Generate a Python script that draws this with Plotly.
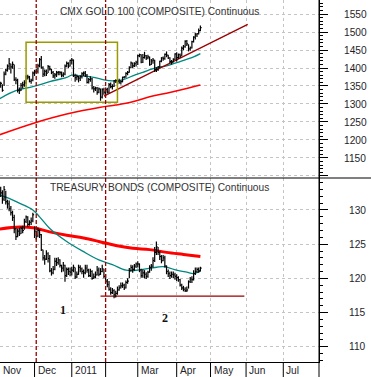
import numpy as np
import pandas as pd
import plotly.graph_objects as go

# ---------------- trading calendar (x categories) ----------------
holidays = ["2010-11-25", "2010-12-24", "2011-01-17", "2011-02-21",
            "2011-04-22", "2011-05-30", "2011-07-04"]
cal = pd.bdate_range("2010-11-01", "2011-08-05", freq="C", holidays=holidays)
pos = {d.strftime("%Y-%m-%d"): i for i, d in enumerate(cal)}

month_starts = ["2010-11-01", "2010-12-01", "2011-01-03", "2011-02-01", "2011-03-01",
                "2011-04-01", "2011-05-02", "2011-06-01", "2011-07-01"]
month_labels = ["Nov", "Dec", "2011", "", "Mar", "Apr", "May", "Jun", "Jul"]
grid_months = ["2011-01-03", "2011-03-01", "2011-04-01", "2011-05-02", "2011-06-01", "2011-07-01"]

# ---------------- CMX GOLD daily bars (Nov 1 2010 .. Apr 21 2011) ----------------
gold_close = [1352, 1357, 1338, 1383, 1394, 1405, 1412, 1403, 1410, 1368, 1366, 1338, 1337, 1352, 1353, 1359, 1376, 1375, 1363, 1366, 1386,
              1389, 1391, 1406, 1423, 1401, 1383, 1391, 1385, 1404, 1397, 1388, 1378, 1381, 1387, 1388, 1387, 1380, 1383, 1405, 1413, 1405, 1421,
              1422, 1379, 1373, 1376, 1372, 1376, 1384, 1386, 1380, 1360, 1368, 1370, 1345, 1342, 1344, 1332, 1342, 1319, 1340, 1333,
              1340, 1333, 1354, 1348, 1349, 1364, 1365, 1363, 1361, 1362, 1374, 1375, 1385, 1388, 1401, 1414, 1406, 1412, 1416,
              1434, 1437, 1416, 1429, 1434, 1428, 1431, 1409, 1420, 1422, 1396, 1396, 1403, 1419, 1428, 1426, 1438, 1436, 1428, 1418, 1416, 1424, 1439,
              1429, 1437, 1433, 1455, 1459, 1474, 1467, 1453, 1456, 1473, 1486, 1492, 1495, 1504, 1512]
gold_high = [1360, 1362, 1355, 1390, 1398, 1410, 1428, 1412, 1418, 1410, 1374, 1370, 1346, 1358, 1362, 1366, 1380, 1381, 1378, 1370, 1390,
             1395, 1398, 1412, 1428, 1433, 1405, 1396, 1396, 1408, 1406, 1398, 1392, 1386, 1392, 1392, 1392, 1390, 1388, 1410, 1418, 1416, 1423,
             1428, 1424, 1384, 1382, 1378, 1380, 1388, 1390, 1392, 1383, 1372, 1377, 1372, 1350, 1348, 1347, 1346, 1343, 1344, 1345,
             1346, 1345, 1358, 1360, 1355, 1367, 1369, 1368, 1370, 1366, 1376, 1378, 1388, 1392, 1405, 1418, 1415, 1416, 1420,
             1437, 1440, 1438, 1439, 1445, 1436, 1437, 1432, 1425, 1428, 1423, 1402, 1405, 1420, 1430, 1432, 1440, 1446, 1437, 1430, 1422, 1427, 1441,
             1444, 1440, 1440, 1460, 1464, 1477, 1478, 1466, 1460, 1476, 1488, 1498, 1497, 1510, 1518]
gold_low = [1340, 1345, 1334, 1350, 1380, 1390, 1395, 1385, 1398, 1364, 1355, 1332, 1328, 1336, 1343, 1348, 1355, 1368, 1360, 1356, 1363,
            1378, 1385, 1385, 1402, 1398, 1375, 1377, 1378, 1386, 1393, 1383, 1372, 1370, 1375, 1380, 1380, 1374, 1375, 1380, 1402, 1400, 1404,
            1410, 1375, 1362, 1366, 1360, 1364, 1371, 1378, 1375, 1357, 1357, 1362, 1340, 1332, 1336, 1326, 1330, 1309, 1315, 1326,
            1328, 1329, 1330, 1344, 1340, 1347, 1358, 1353, 1356, 1354, 1360, 1371, 1373, 1380, 1387, 1399, 1400, 1403, 1404,
            1408, 1430, 1413, 1414, 1426, 1422, 1424, 1406, 1408, 1412, 1389, 1389, 1392, 1400, 1416, 1420, 1423, 1430, 1425, 1413, 1410, 1415, 1422,
            1418, 1426, 1428, 1433, 1449, 1456, 1461, 1446, 1448, 1454, 1471, 1479, 1486, 1493, 1502]

gold_ma50_dates = ["2010-11-01", "2010-11-15", "2010-11-30", "2010-12-14", "2010-12-29", "2011-01-03", "2011-01-10",
                   "2011-01-21", "2011-01-31", "2011-02-07", "2011-02-15", "2011-02-24", "2011-03-04", "2011-03-16",
                   "2011-03-24", "2011-04-05", "2011-04-15", "2011-04-21"]
gold_ma50 = [1314, 1337, 1348, 1362, 1374, 1380, 1378, 1374, 1367, 1364, 1367, 1378, 1388, 1401, 1406, 1418, 1431, 1440]
gold_ma200_dates = ["2010-11-01", "2010-11-30", "2010-12-29", "2011-01-27", "2011-02-09", "2011-02-24",
                    "2011-03-10", "2011-03-24", "2011-04-07", "2011-04-21"]
gold_ma200 = [1214, 1246, 1272, 1291, 1297, 1306, 1320, 1330, 1341, 1353]

gold_trend_dates = ["2011-01-31", "2011-06-02"]
gold_trend = [1322, 1521]
gold_box_dates = ["2010-11-23", "2011-02-10"]
gold_box = [1304.6, 1471.3]

# ---------------- TREASURY BONDS daily bars ----------------
bond_close = [132.8, 132.5, 131.6, 133.0, 131.2, 130.9, 130.2, 129.6, 128.9, 127.2, 126.1, 126.9, 126.5, 127.3, 127.0, 128.3, 129.0, 127.9, 128.2, 128.4, 129.3,
              126.9, 126.2, 127.0, 126.4, 124.2, 123.0, 122.8, 123.6, 122.9, 121.1, 120.8, 121.3, 122.5, 122.3, 122.7, 121.9, 121.5, 121.9, 120.4, 121.3, 121.0, 120.9,
              121.2, 121.6, 120.2, 120.6, 121.6, 121.4, 121.0, 120.8, 121.5, 121.2, 120.4, 121.0, 120.0, 120.2, 120.5, 121.2, 120.6, 121.0, 121.4, 120.3,
              119.6, 119.1, 118.4, 117.9, 118.2, 117.6, 117.8, 118.3, 118.6, 118.9, 119.0, 118.6, 119.4, 119.6, 121.1, 121.6, 121.3, 121.8, 122.1,
              122.1, 121.2, 120.4, 120.8, 120.6, 120.3, 120.9, 121.6, 121.8, 122.6, 123.8, 124.6, 123.8, 123.2, 122.6, 123.0, 121.8, 121.0, 120.7, 120.4, 120.6, 120.5, 120.3,
              120.1, 119.8, 119.0, 118.6, 118.4, 118.2, 118.3, 119.5, 119.9, 119.8, 120.7, 121.0, 121.3, 121.1, 121.5]
bond_high = [133.6, 133.4, 132.9, 133.5, 132.8, 131.5, 131.4, 130.6, 129.9, 129.3, 127.4, 127.3, 127.4, 127.6, 127.7, 128.7, 129.2, 129.1, 128.5, 128.9, 129.6,
             127.6, 127.0, 127.4, 127.2, 126.5, 124.2, 123.4, 124.1, 123.8, 123.4, 121.5, 121.8, 123.0, 123.0, 123.1, 122.8, 122.0, 122.4, 122.0, 121.6, 121.6, 121.6,
             121.7, 122.0, 121.6, 121.0, 122.0, 121.9, 121.6, 121.3, 122.0, 122.0, 121.4, 121.4, 121.2, 120.7, 121.0, 121.8, 121.6, 121.5, 122.0, 121.4,
             120.6, 119.9, 119.6, 118.7, 118.6, 118.4, 118.2, 118.8, 119.0, 119.4, 119.4, 119.2, 119.7, 120.0, 121.5, 122.0, 121.9, 122.1, 122.3,
             122.5, 122.2, 121.4, 121.3, 121.2, 120.9, 121.1, 121.9, 122.1, 123.1, 124.6, 125.4, 124.6, 124.0, 123.4, 123.4, 123.3, 121.9, 121.3, 121.0, 121.0, 121.0, 120.8,
             120.6, 120.3, 119.9, 119.2, 118.9, 118.7, 118.8, 119.7, 120.2, 120.3, 121.2, 121.6, 121.6, 121.6, 121.7]
bond_low = [132.0, 131.9, 130.9, 131.3, 130.8, 130.2, 129.8, 129.2, 128.4, 126.6, 125.6, 126.0, 126.2, 126.5, 126.6, 127.1, 128.1, 127.5, 127.7, 127.8, 128.2,
            125.9, 125.7, 126.0, 125.9, 124.0, 122.6, 122.0, 122.7, 122.3, 120.9, 120.4, 120.6, 121.2, 121.8, 122.0, 121.6, 120.9, 121.0, 119.5, 120.2, 120.5, 120.3,
            120.4, 120.9, 119.9, 120.0, 120.5, 120.9, 120.6, 120.1, 120.6, 120.8, 120.2, 120.2, 119.8, 119.9, 120.0, 120.4, 120.3, 120.5, 120.9, 120.0,
            119.3, 118.7, 118.2, 117.6, 117.7, 117.1, 117.2, 117.6, 118.2, 118.5, 118.6, 118.3, 118.5, 119.2, 120.0, 121.0, 120.8, 121.1, 121.5,
            121.6, 120.9, 120.1, 120.1, 120.0, 119.9, 120.1, 120.8, 121.1, 121.6, 122.4, 123.4, 123.4, 122.7, 122.2, 122.5, 121.6, 120.6, 120.2, 119.9, 120.1, 120.0, 119.8,
            119.6, 119.5, 118.8, 118.3, 118.1, 118.0, 118.0, 118.5, 119.3, 119.3, 119.7, 120.5, 120.8, 120.8, 121.0]

bond_ma50_dates = ["2010-11-01", "2010-11-09", "2010-11-17", "2010-11-30", "2010-12-06", "2010-12-14", "2010-12-29",
                   "2011-01-12", "2011-01-26", "2011-02-07", "2011-02-17", "2011-03-01", "2011-03-11", "2011-03-22",
                   "2011-04-01", "2011-04-11", "2011-04-15", "2011-04-21"]
bond_ma50 = [132.2, 131.7, 131.0, 130.0, 129.0, 127.3, 125.4, 123.9, 122.7, 122.0, 121.2, 121.2, 121.5, 121.7,
             121.2, 120.9, 120.7, 121.1]
bond_ma200_dates = ["2010-11-01", "2010-11-17", "2010-11-30", "2010-12-14", "2010-12-29", "2011-01-12", "2011-01-26",
                    "2011-02-09", "2011-02-24", "2011-03-10", "2011-03-24", "2011-04-07", "2011-04-21"]
bond_ma200 = [127.2, 127.5, 127.4, 126.8, 126.3, 125.9, 125.4, 124.8, 124.4, 124.2, 123.8, 123.5, 123.2]

bond_support_dates = ["2011-01-27", "2011-05-31"]
bond_support = [117.4, 117.4]

marker_dates = ["2010-12-02", "2011-02-01"]
wave_labels = ["1", "2"]
wave_dates = ["2010-12-27", "2011-03-23"]
wave_values = [115.4, 114.25]

gold_ticks = [1100, 1150, 1200, 1250, 1300, 1350, 1400, 1450, 1500, 1550]
gold_ticktext = ["", "1150", "1200", "1250", "1300", "1350", "1400", "1450", "1500", "1550"]
bond_ticks = [110, 115, 120, 125, 130]

# ---------------- styles ----------------
FONT = "Liberation Sans, Arial, sans-serif"
TXT = "#1e1e2a"
GRID = "#c4c4c4"
TEAL = "#00877f"
DKRED = "#990000"
OLIVE = "#999900"
SPLIT = 1 - 178 / 362
XR = [0.59, 189.1]


def to_x(dates):
    return [pos[d] for d in dates]


def hlc(hi, lo, cl, tick=0.75):
    xs, ys = [], []
    for i, (h, l, c) in enumerate(zip(hi, lo, cl)):
        xs += [i, i, None, i, i + tick, None]
        ys += [l, h, None, c, c, None]
    return xs, ys


fig = go.Figure()

# gold panel
gx, gy = hlc(gold_high, gold_low, gold_close)
fig.add_trace(go.Scatter(x=to_x(gold_ma200_dates), y=gold_ma200, mode="lines", line=dict(color="#ff0000", width=1.5, shape="spline"), xaxis="x", yaxis="y", hoverinfo="skip"))
fig.add_trace(go.Scatter(x=to_x(gold_ma50_dates), y=gold_ma50, mode="lines", line=dict(color=TEAL, width=1.3, shape="spline"), xaxis="x", yaxis="y", hoverinfo="skip"))
fig.add_trace(go.Scatter(x=to_x(gold_trend_dates), y=gold_trend, mode="lines", line=dict(color=DKRED, width=1.3), xaxis="x", yaxis="y", hoverinfo="skip"))
fig.add_trace(go.Scatter(x=gx, y=gy, mode="lines", line=dict(color="black", width=1.2), connectgaps=False, xaxis="x", yaxis="y", hoverinfo="skip"))

# bond panel
bx, by = hlc(bond_high, bond_low, bond_close)
fig.add_trace(go.Scatter(x=to_x(bond_ma200_dates), y=bond_ma200, mode="lines", line=dict(color="#ff0000", width=3, shape="spline"), xaxis="x2", yaxis="y2", hoverinfo="skip"))
fig.add_trace(go.Scatter(x=to_x(bond_ma50_dates), y=bond_ma50, mode="lines", line=dict(color=TEAL, width=1.3, shape="spline"), xaxis="x2", yaxis="y2", hoverinfo="skip"))
fig.add_trace(go.Scatter(x=to_x(bond_support_dates), y=bond_support, mode="lines", line=dict(color=DKRED, width=1.3), xaxis="x2", yaxis="y2", hoverinfo="skip"))
fig.add_trace(go.Scatter(x=bx, y=by, mode="lines", line=dict(color="black", width=1.2), connectgaps=False, xaxis="x2", yaxis="y2", hoverinfo="skip"))

shapes = []
bxs = to_x(gold_box_dates)
shapes.append(dict(type="rect", xref="x", yref="y", x0=bxs[0], x1=bxs[1], y0=gold_box[0], y1=gold_box[1],
                   line=dict(color=OLIVE, width=1.5), fillcolor="rgba(0,0,0,0)", layer="above"))
for d in marker_dates:
    shapes.append(dict(type="line", xref="x", yref="paper", x0=pos[d], x1=pos[d], y0=0, y1=1,
                       line=dict(color=DKRED, width=1.3, dash="4px,2px"), layer="above"))
shapes.append(dict(type="line", xref="paper", yref="paper", x0=0, x1=1.2, y0=SPLIT, y1=SPLIT,
                   line=dict(color="black", width=1)))
shapes.append(dict(type="line", xref="paper", yref="paper", x0=1, x1=1, y0=-15 / 362, y1=1,
                   line=dict(color="black", width=1)))
for d in month_starts[1:]:
    shapes.append(dict(type="line", xref="x2", yref="paper", x0=pos[d], x1=pos[d], y0=-15 / 362, y1=0,
                       line=dict(color="black", width=1)))

annotations = [
    dict(text="CMX GOLD 100 (COMPOSITE) Continuous", xref="paper", yref="paper", x=0.5, y=1 - 11.7 / 362,
         xanchor="center", yanchor="middle", showarrow=False, font=dict(family=FONT, size=10.2, color="#333333")),
    dict(text="TREASURY BONDS (COMPOSITE) Continuous", xref="paper", yref="paper", x=0.5, y=1 - 187.3 / 362,
         xanchor="center", yanchor="middle", showarrow=False, font=dict(family=FONT, size=10.2, color="#333333")),
]
for d, lab in zip(month_starts, month_labels):
    if not lab:
        continue
    xv = max(pos[d], XR[0])
    annotations.append(dict(text=lab, xref="x2", yref="paper", x=xv, y=1 - 370 / 362, xshift=1,
                            xanchor="left", yanchor="middle", showarrow=False,
                            font=dict(family=FONT, size=10.2, color=TXT)))
for lab, d, v in zip(wave_labels, wave_dates, wave_values):
    annotations.append(dict(text="<b>" + lab + "</b>", xref="x2", yref="y2", x=pos[d], y=v, showarrow=False,
                            xanchor="center", yanchor="middle",
                            font=dict(family="Liberation Serif, Times New Roman, serif", size=12, color="#111111")))

xcommon = dict(range=XR, showticklabels=False, ticks="", showgrid=True, tickmode="array",
               tickvals=to_x(grid_months), gridcolor=GRID, griddash="3px,3px", gridwidth=1, zeroline=False)
ycommon = dict(side="right", showgrid=True, gridcolor=GRID, griddash="3px,3px", gridwidth=1, zeroline=False,
               showline=True, linecolor="black", linewidth=1, ticks="outside", ticklen=8, tickwidth=1,
               tickcolor="black", tickfont=dict(family=FONT, size=10.2, color=TXT), tickmode="array")

fig.update_layout(
    width=371, height=377, margin=dict(l=0, r=52, t=0, b=15),
    paper_bgcolor="white", plot_bgcolor="white", showlegend=False,
    xaxis=dict(domain=[0, 1], anchor="y", showline=False, **xcommon),
    xaxis2=dict(domain=[0, 1], anchor="y2", showline=True, linecolor="black", linewidth=1, **xcommon),
    yaxis=dict(domain=[SPLIT, 1], anchor="x", range=[1094.4, 1588.9], tickvals=gold_ticks, ticktext=gold_ticktext,
               ticklabelstandoff=14,
               minor=dict(dtick=10, tick0=1100, ticks="outside", ticklen=3, tickcolor="black", showgrid=False),
               **ycommon),
    yaxis2=dict(domain=[0, SPLIT], anchor="x2", range=[107.76, 134.68], tickvals=bond_ticks,
                ticktext=[str(t) for t in bond_ticks], ticklabelstandoff=19,
                minor=dict(dtick=1, tick0=105, ticks="outside", ticklen=3, tickcolor="black", showgrid=False),
                **ycommon),
    shapes=shapes, annotations=annotations,
)

fig.write_html("out.html", config={"displayModeBar": False, "staticPlot": True},
               post_script="document.body.style.margin='0';document.body.style.overflow='hidden';")
